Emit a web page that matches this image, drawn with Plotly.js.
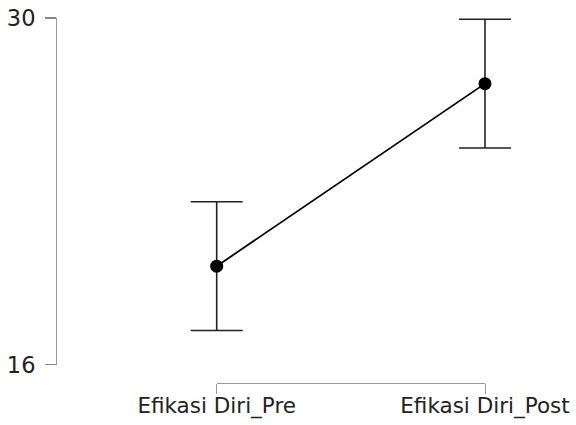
<!DOCTYPE html>
<html>
<head>
<meta charset="utf-8">
<script src="https://cdn.plot.ly/plotly-3.0.1.min.js"></script>
<style>html,body{margin:0;padding:0;background:#fff;}#chart{width:576px;height:425px;}</style>
</head>
<body>
<div id="chart"></div>
<script>
const categories = ["Efikasi Diri_Pre", "Efikasi Diri_Post"];
const means = [19.98, 27.35];
const errors = [2.6, 2.6];
const yTicks = [16, 30];

const xIdx = categories.map((c, i) => i);

const trace = {
  x: xIdx,
  y: means,
  type: 'scatter',
  mode: 'lines+markers',
  xaxis: 'x', yaxis: 'y',
  line: {color: '#000', width: 1.8},
  marker: {color: '#000', size: 13},
  error_y: {type: 'data', array: errors, visible: true, color: '#222', thickness: 1.6, width: 26},
  cliponaxis: false,
  hoverinfo: 'none'
};

// invisible trace that carries the visible category axis
const axisTrace = {
  x: xIdx,
  y: means.map(() => null),
  type: 'scatter',
  mode: 'markers',
  xaxis: 'x2', yaxis: 'y',
  hoverinfo: 'none',
  showlegend: false
};

const layout = {
  width: 576, height: 425,
  margin: {l: 56, r: 40, t: 17.5, b: 42, pad: 0},
  paper_bgcolor: '#fff', plot_bgcolor: 'rgba(0,0,0,0)',
  showlegend: false,
  font: {family: 'DejaVu Sans, sans-serif', size: 21, color: '#222'},
  xaxis: {
    domain: [0.2, 1],
    range: [-0.2411, 1.1901],
    visible: false,
    showgrid: false, zeroline: false,
    anchor: 'free', position: 0
  },
  xaxis2: {
    domain: [0.3348, 0.89375],
    range: [0, 1],
    tickvals: xIdx,
    ticktext: categories,
    showline: true, linecolor: '#999', linewidth: 1,
    ticks: 'outside', ticklen: 10, tickcolor: '#999', tickwidth: 1,
    showgrid: false, zeroline: false,
    anchor: 'free', position: 0,
    tickfont: {family: 'DejaVu Sans, sans-serif', size: 21.5, color: '#222'},
    ticklabelstandoff: -7
  },
  yaxis: {
    domain: [0.05, 1],
    range: [16, 30],
    tickvals: yTicks,
    ticktext: yTicks.map(String),
    showline: true, linecolor: '#999', linewidth: 1,
    ticks: 'outside', ticklen: 11, tickcolor: '#888', tickwidth: 1.2,
    showgrid: false, zeroline: false,
    anchor: 'free', position: 0,
    tickfont: {family: 'DejaVu Sans, sans-serif', size: 22.5, color: '#222'},
    ticklabelstandoff: 5
  }
};

Plotly.newPlot('chart', [trace, axisTrace], layout, {displayModeBar: false, staticPlot: true});
</script>
</body>
</html>
